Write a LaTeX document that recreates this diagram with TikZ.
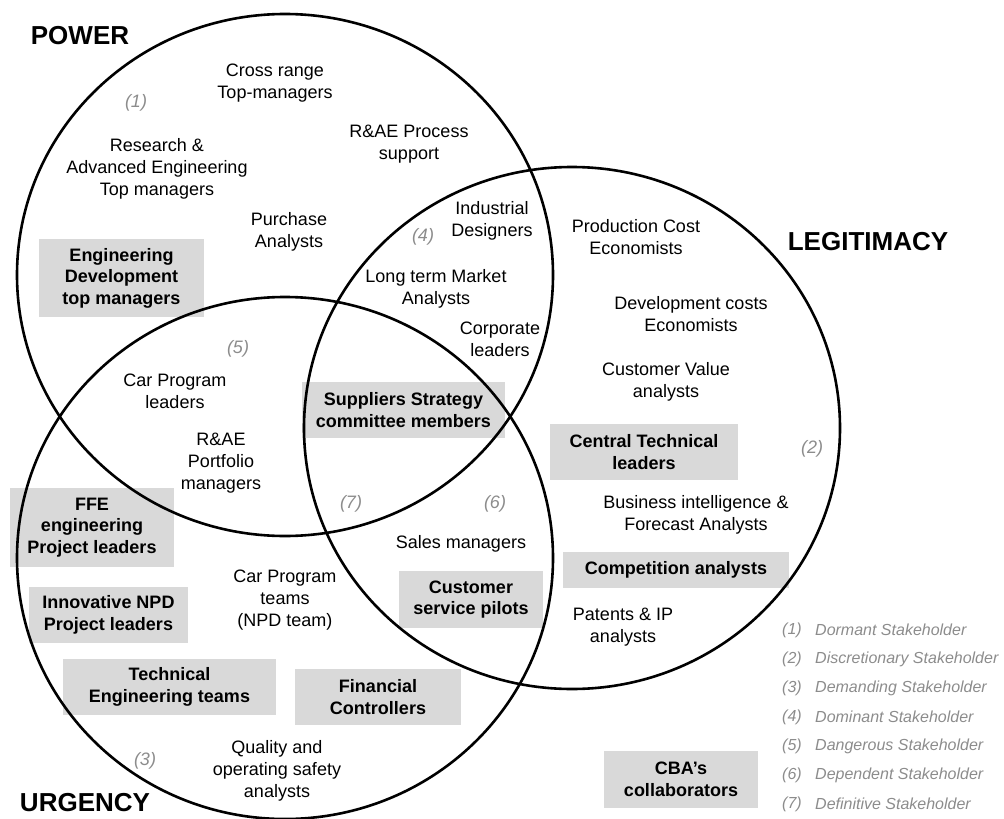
\documentclass[tikz,border=0pt]{standalone}
\usepackage{fontspec}
\setmainfont{Liberation Sans}
\usetikzlibrary{positioning}
\definecolor{boxgray}{RGB}{217,217,217}
\definecolor{numgray}{RGB}{140,140,140}

\begin{document}
\begin{tikzpicture}[x=1pt,y=-1pt,
    ring/.style={draw,line width=2.6pt},
    box/.style={fill=boxgray,inner sep=0pt,align=center,
      font=\fontsize{18}{21.5}\selectfont\bfseries},
    txt/.style={align=center,inner sep=0pt,font=\fontsize{18}{22}\selectfont},
    num/.style={text=numgray,inner sep=0pt,font=\fontsize{18}{22}\selectfont\itshape},
    title/.style={inner sep=0pt,font=\fontsize{26}{30}\selectfont\bfseries},
    legend/.style={text=numgray,anchor=west,inner sep=0pt,
      font=\fontsize{16}{19}\selectfont\itshape}]
  \useasboundingbox (0,0) rectangle (1004,819);
  % grey boxes
  \node[box,minimum width=165pt,minimum height=78pt] (engdev) at (121.5,278) {Engineering\\Development\\top managers};
  \node[box,minimum width=203pt,minimum height=56pt] (suppliers) at (403.5,410) {Suppliers Strategy\\committee members};
  \node[box,minimum width=188pt,minimum height=56pt] (central) at (644,452) {Central Technical\\leaders};
  \node[box,minimum width=164pt,minimum height=79pt] (ffe) at (92,527.5) {FFE\\engineering\\Project leaders};
  \node[box,minimum width=226pt,minimum height=36pt] (competition) at (676,570) {Competition analysts};
  \node[box,minimum width=144pt,minimum height=57pt] (custserv) at (471,599.5) {Customer\\service pilots};
  \node[box,minimum width=159pt,minimum height=56pt] (innovative) at (108.5,615) {Innovative NPD\\Project leaders};
  \node[box,minimum width=213pt,minimum height=56pt] (techeng) at (169.5,687) {Technical\\Engineering teams};
  \node[box,minimum width=166pt,minimum height=56pt] (financial) at (378,697) {Financial\\Controllers};
  \node[box,minimum width=154pt,minimum height=57pt] (cba) at (681,779.5) {CBA’s\\collaborators};
  % the three attributes
  \draw[ring] (285,275) ellipse [x radius=268pt,y radius=261pt];
  \draw[ring] (572,428) ellipse [x radius=268pt,y radius=261pt];
  \draw[ring] (285,558) ellipse [x radius=268pt,y radius=261pt];
  \node[title] (power) at (80,36) {POWER};
  \node[title] (legit) at (868,242) {LEGITIMACY};
  \node[title] (urgency) at (85,803) {URGENCY};
  % stakeholders
  \node[txt] (crossrange) at (275,83) {Cross range\\Top-managers};
  \node[txt] (research) at (157,169) {Research \&\\Advanced Engineering\\Top managers};
  \node[txt] (process) at (409,144.5) {R\&AE Process\\support};
  \node[txt] (purchase) at (289,231.5) {Purchase\\Analysts};
  \node[txt] (industrial) at (492,221) {Industrial\\Designers};
  \node[txt] (longterm) at (436,288.5) {Long term Market\\Analysts};
  \node[txt] (corporate) at (500,339.5) {Corporate\\leaders};
  \node[txt] (carprog) at (175,391) {Car Program\\leaders};
  \node[txt] (portfolio) at (221,463.5) {R\&AE\\Portfolio\\managers};
  \node[txt] (prodcost) at (636,237) {Production Cost\\Economists};
  \node[txt] (devcost) at (691,314) {Development costs\\Economists};
  \node[txt] (custvalue) at (666,381.5) {Customer Value\\analysts};
  \node[txt] (business) at (696,514.5) {Business intelligence \&\\Forecast Analysts};
  \node[txt] (sales) at (461,544) {Sales managers};
  \node[txt] (carteams) at (285,600) {Car Program\\teams\\(NPD team)};
  \node[txt] (patents) at (623,627) {Patents \& IP\\analysts};
  \node[txt] (quality) at (277,771) {Quality and\\operating safety\\analysts};
  % zone numbers
  \node[num] (z1) at (136,103) {(1)};
  \node[num] (z2) at (812,449) {(2)};
  \node[num] (z3) at (145,761) {(3)};
  \node[num] (z4) at (423,237) {(4)};
  \node[num] (z5) at (238,349) {(5)};
  \node[num] (z6) at (495,504) {(6)};
  \node[num] (z7) at (351,504) {(7)};
  % legend
  \foreach \kind [count=\i] in {Dormant,Discretionary,Demanding,Dominant,Dangerous,Dependent,Definitive} {
    \node[legend] (k\i) at (782,601+29*\i) {(\i)};
    \node[legend] (s\i) at (815,601+29*\i) {\kind{} Stakeholder};
  }
\end{tikzpicture}
\end{document}
